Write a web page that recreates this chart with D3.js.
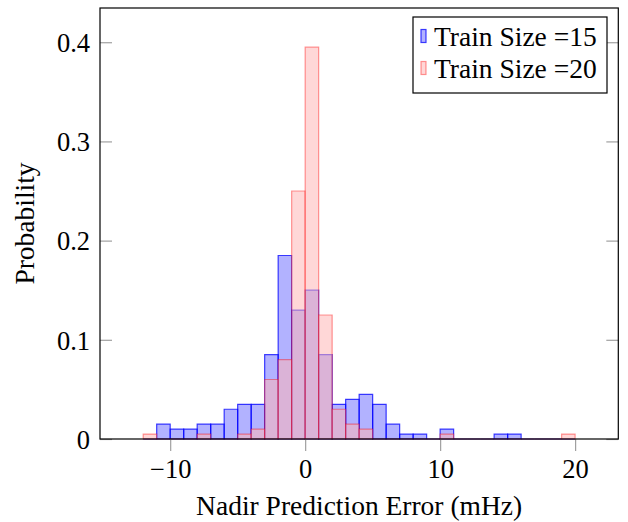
<!DOCTYPE html>
<html>
<head>
<meta charset="utf-8">
<script src="https://cdn.jsdelivr.net/npm/d3@7"></script>
<style>
  html, body { margin: 0; padding: 0; background: #fff; }
  svg { display: block; }
  text { font-family: 'Liberation Serif', 'Times New Roman', serif; fill: #000; }
</style>
</head>
<body>
<svg id="chart" width="628" height="522"></svg>
<script>
// ---- data ----
const binStarts = [-12,-11,-10,-9,-8,-7,-6,-5,-4,-3,-2,-1,0,1,2,3,4,5,6,7,8,9,10,11,12,13,14,15,16,17,18,19];
const binWidth = 1;
const train15 = [0,0.015,0.010,0.010,0.015,0.015,0.030,0.035,0.035,0.085,0.185,0.130,0.150,0.085,0.035,0.040,0.045,0.035,0.015,0.005,0.005,0,0.010,0,0,0,0.005,0.005,0,0,0,0];
const train20 = [0.005,0,0,0,0.005,0,0,0.005,0.010,0.060,0.080,0.250,0.395,0.125,0.030,0.015,0.010,0,0,0,0,0,0.005,0,0,0,0,0,0,0,0,0.005];
const xTicks = [-10, 0, 10, 20];
const yTicks = [0, 0.1, 0.2, 0.3, 0.4];
const seriesNames = ["Train Size =15", "Train Size =20"];

// ---- layout ----
const L = 100, R = 618.3, T = 8, B = 439;
const svg = d3.select("#chart");

const x = d3.scaleLinear().domain([-15.2, 23.2]).range([L, R]);
const y = d3.scaleLinear().domain([0, 0.4345]).range([B, T]);

const styles = [
  { fill: "#0000ff", fillOpacity: 0.3, stroke: "#0000ff", strokeOpacity: 0.75 },
  { fill: "#ffb3b3", fillOpacity: 0.53, stroke: "#ff0000", strokeOpacity: 0.4 }
];

function barPath(start, v) {
  const x0 = x(start), x1 = x(start + binWidth), y0 = y(0), y1 = y(v);
  return `M${x0},${y0}V${y1}H${x1}V${y0}Z`;
}

[train15, train20].forEach((vals, si) => {
  const st = styles[si];
  svg.append("g").selectAll("path")
    .data(binStarts.map((s, i) => ({ s, v: vals[i] })))
    .join("path")
    .attr("d", d => barPath(d.s, d.v))
    .attr("fill", st.fill)
    .attr("fill-opacity", st.fillOpacity)
    .attr("stroke", st.stroke)
    .attr("stroke-opacity", st.strokeOpacity)
    .attr("stroke-width", 1.2);
});

// ---- axes ----
const fmtX = d => d < 0 ? "\u2212" + Math.abs(d) : String(d);
const xAxis = svg.append("g").attr("transform", `translate(0,${B})`)
  .call(d3.axisBottom(x).tickValues(xTicks).tickSize(12).tickPadding(4).tickFormat(fmtX));
xAxis.select(".domain").remove();
xAxis.selectAll("line").attr("stroke", "#a0a0a0").attr("stroke-width", 1.2);
xAxis.selectAll("text").attr("font-size", 26.5).attr("font-family", "'Liberation Serif', serif")
  .attr("y", 39).attr("dy", null).attr("fill", "#000");

const yAxis = svg.append("g").attr("transform", `translate(${L},0)`)
  .call(d3.axisLeft(y).tickValues(yTicks).tickSize(-12).tickPadding(22)
    .tickFormat(d => d === 0 ? "0" : d.toFixed(1)));
yAxis.select(".domain").remove();
yAxis.selectAll("line").attr("stroke", "#a0a0a0").attr("stroke-width", 1.2);
yAxis.selectAll("text").attr("font-size", 26.5).attr("font-family", "'Liberation Serif', serif")
  .attr("x", -10).attr("dy", "0.35em").attr("fill", "#000");

const yAxisR = svg.append("g").attr("transform", `translate(${R},0)`)
  .call(d3.axisRight(y).tickValues(yTicks).tickSize(-12).tickFormat(""));
yAxisR.select(".domain").remove();
yAxisR.selectAll("line").attr("stroke", "#a0a0a0").attr("stroke-width", 1.2);

// frame
svg.append("rect").attr("x", L).attr("y", T).attr("width", R - L).attr("height", B - T)
  .attr("fill", "none").attr("stroke", "#000").attr("stroke-width", 1.2);

// axis titles
svg.append("text").attr("x", (L + R) / 2).attr("y", 515).attr("text-anchor", "middle")
  .attr("font-size", 27.5).text("Nadir Prediction Error (mHz)");
svg.append("text").attr("transform", `translate(34,${(T + B) / 2}) rotate(-90)`)
  .attr("text-anchor", "middle").attr("font-size", 27.5).text("Probability");

// ---- legend ----
const lg = svg.append("g");
lg.append("rect").attr("x", 413).attr("y", 17).attr("width", 194).attr("height", 76)
  .attr("fill", "#fff").attr("stroke", "#000").attr("stroke-width", 1.2);
const rowsY = [46, 78];
seriesNames.forEach((name, i) => {
  const st = styles[i];
  lg.append("rect").attr("x", 421).attr("y", rowsY[i] - 16.5).attr("width", 5).attr("height", 13)
    .attr("fill", st.fill).attr("fill-opacity", st.fillOpacity)
    .attr("stroke", st.stroke).attr("stroke-opacity", st.strokeOpacity).attr("stroke-width", 1.2);
  lg.append("text").attr("x", 434).attr("y", rowsY[i]).attr("font-size", 27.5).text(name);
});
</script>
</body>
</html>
